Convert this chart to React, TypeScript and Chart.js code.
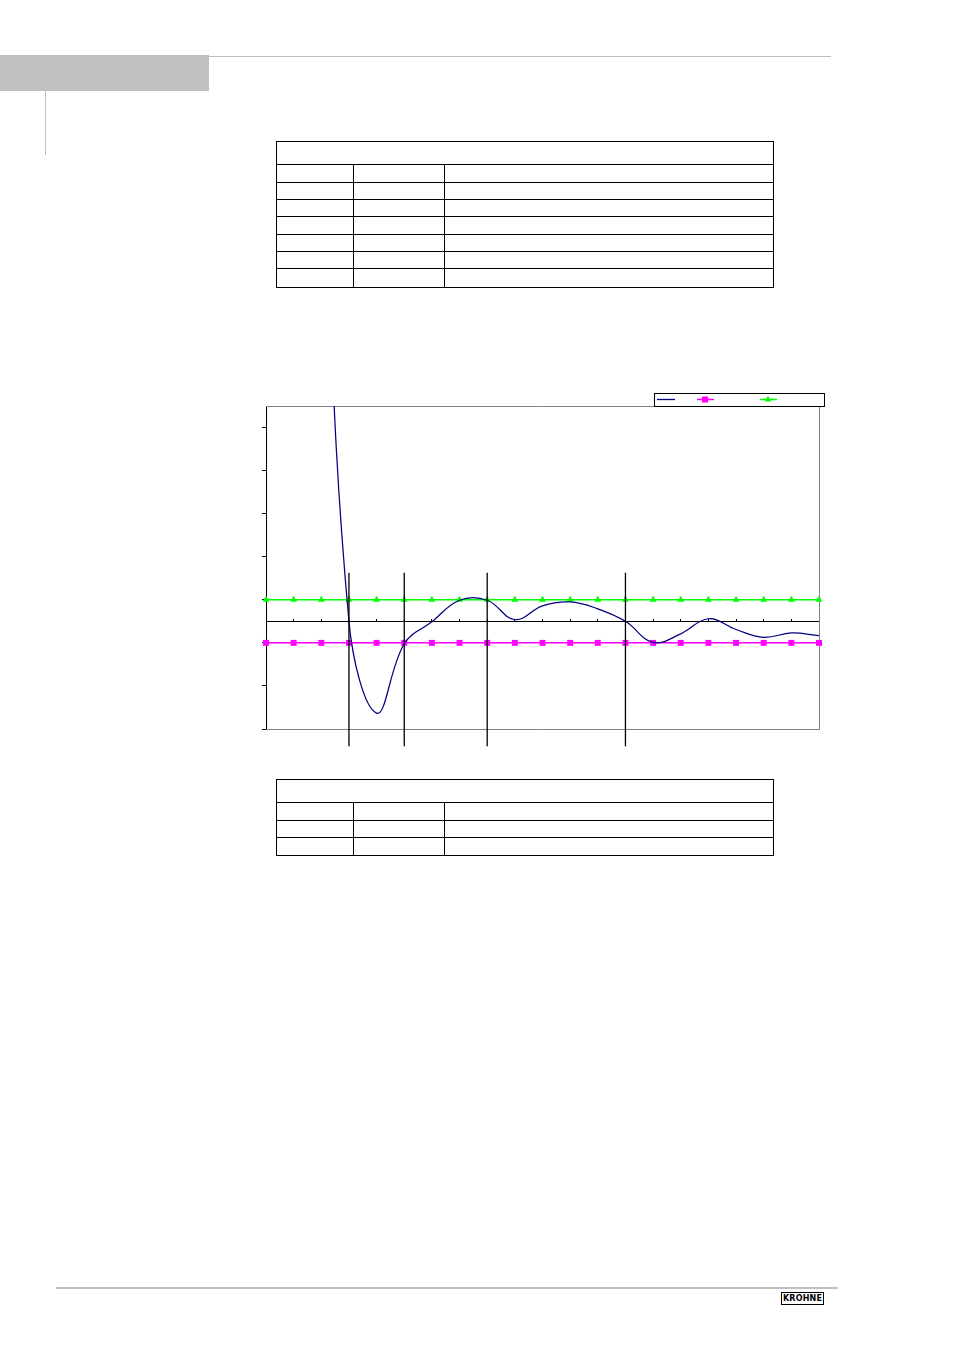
import React, { useEffect, useRef } from 'react';
import { Chart, registerables } from 'chart.js';

Chart.register(...registerables);

// ---- data ----
const xCategories = [0, 1, 2, 3, 4, 5, 6, 7, 8, 9, 10, 11, 12, 13, 14, 15, 16, 17, 18, 19, 20];
const errorX = [2, 3, 4, 5, 6, 7, 8, 9, 10, 11, 12, 13, 14, 15, 16, 17, 18, 19, 20];
const errorValues = [12, 0, -2.13, -0.52, -0.01, 0.49, 0.49, 0.04, 0.36, 0.45, 0.29, 0, -0.49, -0.29, 0.06, -0.19, -0.37, -0.27, -0.33];
const upperLimit = [0.5, 0.5, 0.5, 0.5, 0.5, 0.5, 0.5, 0.5, 0.5, 0.5, 0.5, 0.5, 0.5, 0.5, 0.5, 0.5, 0.5, 0.5, 0.5, 0.5, 0.5];
const lowerLimit = [-0.5, -0.5, -0.5, -0.5, -0.5, -0.5, -0.5, -0.5, -0.5, -0.5, -0.5, -0.5, -0.5, -0.5, -0.5, -0.5, -0.5, -0.5, -0.5, -0.5, -0.5];
const verticalX = [3, 5, 8, 13];
const verticalTop = 1.13;
const verticalBottom = -2.9;
const yTicks = [-2.5, -1.5, -0.5, 0.5, 1.5, 2.5, 3.5, 4.5];
const yMin = -2.5;
const yMax = 5;

const BLUE = '#000080';
const PINK = '#FF00FF';
const GREEN = '#00FF00';

const framePlugin = {
  id: 'frame',
  beforeDatasetsDraw(chart: any) {
    const { ctx, chartArea: a } = chart;
    ctx.save();
    ctx.strokeStyle = '#808080';
    ctx.lineWidth = 1;
    ctx.beginPath();
    ctx.moveTo(a.left, Math.round(a.top) + 0.5);
    ctx.lineTo(Math.round(a.right) + 0.5, Math.round(a.top) + 0.5);
    ctx.lineTo(Math.round(a.right) + 0.5, Math.round(a.bottom) + 0.5);
    ctx.lineTo(a.left, Math.round(a.bottom) + 0.5);
    ctx.stroke();
    ctx.restore();
  },
};

const legendPlugin = {
  id: 'boxLegend',
  afterDraw(chart: any) {
    const { ctx } = chart;
    ctx.save();
    ctx.fillStyle = '#ffffff';
    ctx.fillRect(414, 13, 170, 13);
    ctx.strokeStyle = '#000000';
    ctx.lineWidth = 1;
    ctx.strokeRect(414.5, 13.5, 170, 13);
    const y = 19.5;
    // blue line
    ctx.strokeStyle = BLUE;
    ctx.lineWidth = 1.3;
    ctx.beginPath();
    ctx.moveTo(417, y);
    ctx.lineTo(435, y);
    ctx.stroke();
    // pink line + square
    ctx.strokeStyle = PINK;
    ctx.lineWidth = 1.5;
    ctx.beginPath();
    ctx.moveTo(457, y);
    ctx.lineTo(474, y);
    ctx.stroke();
    ctx.fillStyle = PINK;
    ctx.fillRect(465 - 3, y - 3, 6, 6);
    // green line + triangle
    ctx.strokeStyle = GREEN;
    ctx.beginPath();
    ctx.moveTo(520, y);
    ctx.lineTo(537, y);
    ctx.stroke();
    ctx.fillStyle = GREEN;
    ctx.beginPath();
    ctx.moveTo(528, y - 3.8);
    ctx.lineTo(528 + 3.3, y + 2);
    ctx.lineTo(528 - 3.3, y + 2);
    ctx.closePath();
    ctx.fill();
    ctx.restore();
  },
};

function ErrorChart() {
  const ref = useRef<HTMLCanvasElement | null>(null);
  useEffect(() => {
    if (!ref.current) return;
    const verticalSets = verticalX.map((vx) => ({
      data: [
        { x: vx, y: verticalTop },
        { x: vx, y: verticalBottom },
      ],
      borderColor: '#000000',
      borderWidth: 1.3,
      pointRadius: 0,
      tension: 0,
      clip: false as any,
    }));
    const chart = new Chart(ref.current, {
      type: 'line',
      data: {
        datasets: [
          ...verticalSets,
          {
            data: errorX.map((x, i) => ({ x, y: errorValues[i] })),
            borderColor: BLUE,
            borderWidth: 1.25,
            pointRadius: 0,
            tension: 0.4,
          },
          {
            data: xCategories.map((x, i) => ({ x, y: upperLimit[i] })),
            borderColor: GREEN,
            backgroundColor: GREEN,
            borderWidth: 1.5,
            pointStyle: 'triangle',
            pointRadius: 4,
            pointBorderWidth: 0,
            tension: 0,
            clip: 8 as any,
          },
          {
            data: xCategories.map((x, i) => ({ x, y: lowerLimit[i] })),
            borderColor: PINK,
            backgroundColor: PINK,
            borderWidth: 1.5,
            pointStyle: 'rect',
            pointRadius: 4.2,
            pointBorderWidth: 0,
            tension: 0,
            clip: 8 as any,
          },
        ] as any,
      },
      options: {
        animation: false,
        responsive: false,
        maintainAspectRatio: false,
        events: [],
        layout: { padding: { left: 22, top: 26, right: 21, bottom: 31 } },
        plugins: {
          legend: { display: false },
          tooltip: { enabled: false },
          title: { display: false },
        },
        scales: {
          x: {
            type: 'linear',
            position: { y: 0 } as any,
            min: 0,
            max: 20,
            ticks: { display: false, stepSize: 1 },
            grid: {
              display: true,
              drawOnChartArea: false,
              drawTicks: true,
              tickLength: -3,
              color: '#000000',
            },
            border: { display: true, color: '#000000', width: 1 },
            afterFit: (s: any) => {
              s.height = 0;
            },
          },
          y: {
            type: 'linear',
            position: 'left',
            min: yMin,
            max: yMax,
            ticks: { display: false },
            afterBuildTicks: (s: any) => {
              s.ticks = yTicks.map((v) => ({ value: v }));
            },
            grid: {
              display: true,
              drawOnChartArea: false,
              drawTicks: true,
              tickLength: 4,
              color: '#000000',
            },
            border: { display: true, color: '#000000', width: 1 },
          },
        },
      } as any,
      plugins: [framePlugin, legendPlugin],
    });
    return () => chart.destroy();
  }, []);
  return (
    <canvas
      ref={ref}
      width={600}
      height={380}
      style={{ position: 'absolute', left: 240, top: 380, width: 600, height: 380 }}
    />
  );
}

function Line({ x, y, w, h, color }: { x: number; y: number; w: number; h: number; color: string }) {
  return <div style={{ position: 'absolute', left: x, top: y, width: w, height: h, background: color }} />;
}

function GridTable({ top, bottom, rowLines }: { top: number; bottom: number; rowLines: number[] }) {
  const left = 276;
  const right = 773;
  const cols = [353, 444];
  const firstRow = rowLines[0];
  return (
    <>
      <div
        style={{
          position: 'absolute',
          left,
          top,
          width: right - left - 1,
          height: bottom - top - 1,
          border: '1px solid #000',
        }}
      />
      {rowLines.map((ry) => (
        <Line key={'r' + ry} x={left} y={ry} w={right - left + 1} h={1} color="#000" />
      ))}
      {cols.map((cx) => (
        <Line key={'c' + cx} x={cx} y={firstRow} w={1} h={bottom - firstRow} color="#000" />
      ))}
    </>
  );
}

export default function App() {
  return (
    <div
      style={{
        position: 'absolute',
        left: 0,
        top: 0,
        width: 954,
        height: 1351,
        background: '#fff',
        overflow: 'hidden',
      }}
    >
      {/* header */}
      <div style={{ position: 'absolute', left: 0, top: 55, width: 209, height: 36, background: '#c0c0c0' }} />
      <Line x={209} y={56} w={622} h={1} color="#c0c0c0" />
      <Line x={45} y={91} w={1} h={64} color="#c0c0c0" />

      {/* top table */}
      <GridTable top={141} bottom={287} rowLines={[164, 182, 199, 216, 234, 251, 268]} />

      {/* chart */}
      <ErrorChart />

      {/* bottom table */}
      <GridTable top={779} bottom={855} rowLines={[802, 820, 837]} />

      {/* footer */}
      <Line x={56} y={1287} w={782} h={2} color="#c0c0c0" />
      <div
        style={{
          position: 'absolute',
          left: 781,
          top: 1292,
          width: 41,
          height: 11,
          border: '1px solid #000',
          background: '#fff',
          fontFamily: '"DejaVu Sans", sans-serif',
          fontWeight: 'bold',
          fontSize: 8,
          lineHeight: '11px',
          textAlign: 'center',
          color: '#000',
          letterSpacing: 0.2,
        }}
      >
        KROHNE
      </div>
    </div>
  );
}
